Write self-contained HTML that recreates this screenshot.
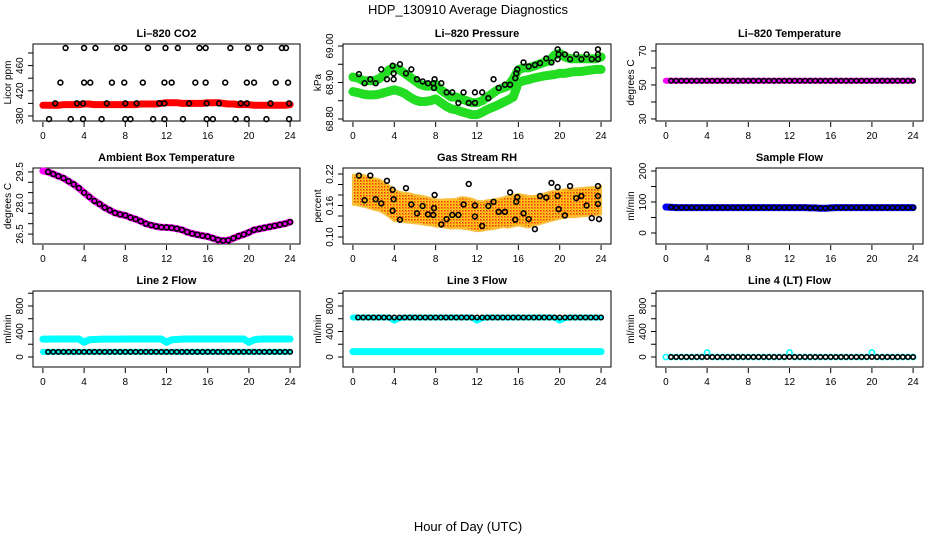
<!DOCTYPE html>
<html><head><meta charset="utf-8"><style>
body{margin:0;background:#fff}
svg{display:block;font-family:"Liberation Sans",Arial,sans-serif}
</style></head><body>
<svg id="c" width="936" height="540" viewBox="0 0 936 540">
<defs>
<pattern id="rhpat" width="3" height="3" patternUnits="userSpaceOnUse"><rect width="3" height="3" fill="#ffd21a"/><rect x="0" y="0" width="1.5" height="1.5" fill="#f03010"/><rect x="1.5" y="1.5" width="1" height="1" fill="#f06010"/></pattern>
</defs>
<text x="468" y="14" text-anchor="middle" font-size="13">HDP_130910  Average Diagnostics</text>
<text x="468" y="531" text-anchor="middle" font-size="13">Hour of Day (UTC)</text>
</svg>
<script>
// ---- data ----
const halfHours=[0.5,1,1.5,2,2.5,3,3.5,4,4.5,5,5.5,6,6.5,7,7.5,8,8.5,9,9.5,10,10.5,11,11.5,12,12.5,13,13.5,14,14.5,15,15.5,16,16.5,17,17.5,18,18.5,19,19.5,20,20.5,21,21.5,22,22.5,23,23.5,24];
const bandHours=[0,0.5,1,1.5,2,2.5,3,3.5,4,4.5,5,5.5,6,6.5,7,7.5,8,8.5,9,9.5,10,10.5,11,11.5,12,12.5,13,13.5,14,14.5,15,15.5,16,16.5,17,17.5,18,18.5,19,19.5,20,20.5,21,21.5,22,22.5,23,23.5,24];
const xTicks=[0,4,8,12,16,20,24];
// CO2
const co2Red=[397,397,397,397,398,398,398,398,399,399,398,398,398,398,398,398,398,398,398,399,399,399,399,400,401,401,401,400,400,400,400,400,401,401,401,400,399,399,398,398,398,397,397,397,397,397,397,397,398];
const co2BlackHours=[2.2,4.0,5.1,7.2,7.9,10.2,11.9,13.1,15.2,15.8,18.2,19.9,21.1,23.2,23.6,1.7,4.0,4.6,6.7,7.9,9.7,11.8,12.5,14.8,15.8,17.7,19.8,20.5,22.6,23.8,0.6,2.7,3.9,5.7,8.0,8.5,10.7,11.8,13.6,15.9,16.5,18.7,19.8,21.7,23.9,1.2,3.3,3.9,6.2,8.0,9.1,11.3,11.8,14.2,15.9,17.1,19.2,19.8,22.1,23.9];
const co2BlackVals=[488,488,488,488,488,488,488,488,488,488,488,488,488,488,488,433,433,433,433,433,433,433,433,433,433,433,433,433,433,433,375,375,375,375,375,375,375,375,375,375,375,375,375,375,375,400,400,400,400,400,400,400,400,400,400,400,400,400,400,400];
// Pressure
const presUpper=[68.915,68.912,68.905,68.905,68.905,68.91,68.92,68.935,68.94,68.935,68.925,68.915,68.905,68.895,68.89,68.89,68.895,68.88,68.87,68.86,68.86,68.855,68.85,68.845,68.845,68.85,68.86,68.87,68.88,68.885,68.89,68.91,68.935,68.94,68.94,68.945,68.95,68.955,68.96,68.975,68.98,68.97,68.965,68.965,68.965,68.965,68.965,68.965,68.97];
const presLower=[68.875,68.872,68.868,68.866,68.866,68.868,68.872,68.876,68.88,68.876,68.87,68.86,68.852,68.848,68.848,68.85,68.855,68.845,68.835,68.828,68.825,68.82,68.816,68.812,68.812,68.818,68.826,68.832,68.838,68.845,68.852,68.86,68.9,68.905,68.908,68.912,68.915,68.918,68.92,68.922,68.925,68.925,68.928,68.93,68.93,68.932,68.934,68.936,68.936];
const presBlackHours=[0.58,1.13,1.68,2.2,2.74,3.29,3.84,3.94,3.94,4.55,5.13,5.65,6.2,6.74,7.26,7.77,7.84,7.9,8.55,9.06,9.61,10.2,10.7,11.2,11.8,11.8,12.5,13.1,13.6,14.1,14.7,15.2,15.7,15.8,15.9,16.5,17.0,17.6,18.1,18.7,19.2,19.8,19.8,19.9,20.5,21.0,21.6,22.1,22.6,23.1,23.7,23.7,23.7];
const presBlackVals=[68.923,68.898,68.909,68.898,68.936,68.909,68.946,68.925,68.909,68.95,68.925,68.936,68.909,68.903,68.898,68.898,68.885,68.909,68.898,68.873,68.873,68.844,68.873,68.844,68.873,68.844,68.873,68.857,68.909,68.885,68.894,68.894,68.912,68.925,68.936,68.955,68.944,68.948,68.953,68.966,68.955,68.964,68.991,68.977,68.977,68.964,68.977,68.964,68.977,68.964,68.991,68.977,68.964];
// Li-820 temperature
const tempVals=[52.5,52.5,52.5,52.5,52.5,52.5,52.5,52.5,52.5,52.5,52.5,52.5,52.5,52.5,52.5,52.5,52.5,52.5,52.5,52.5,52.5,52.5,52.5,52.5,52.5,52.5,52.5,52.5,52.5,52.5,52.5,52.5,52.5,52.5,52.5,52.5,52.5,52.5,52.5,52.5,52.5,52.5,52.5,52.5,52.5,52.5,52.5,52.5,52.5];
// Ambient box temperature
const ambVals=[29.55,29.5,29.4,29.3,29.2,29.05,28.9,28.72,28.5,28.3,28.1,27.95,27.78,27.65,27.52,27.45,27.4,27.3,27.22,27.12,27.0,26.93,26.87,26.83,26.82,26.8,26.76,26.7,26.6,26.52,26.47,26.42,26.38,26.3,26.22,26.18,26.2,26.3,26.4,26.48,26.58,26.7,26.75,26.8,26.85,26.9,26.95,27.0,27.08];
// Gas stream RH
const rhMid=[0.19,0.19,0.188,0.185,0.182,0.18,0.175,0.168,0.16,0.158,0.156,0.155,0.153,0.152,0.15,0.148,0.146,0.145,0.145,0.144,0.145,0.146,0.145,0.143,0.14,0.14,0.142,0.143,0.145,0.147,0.148,0.15,0.152,0.15,0.148,0.15,0.152,0.155,0.158,0.16,0.162,0.164,0.165,0.165,0.166,0.167,0.168,0.168,0.17];
const rhSpread=[0.028,0.03,0.03,0.03,0.03,0.03,0.03,0.03,0.03,0.028,0.028,0.028,0.027,0.027,0.027,0.026,0.026,0.026,0.027,0.028,0.028,0.03,0.03,0.03,0.029,0.028,0.028,0.028,0.028,0.028,0.03,0.03,0.03,0.03,0.03,0.028,0.028,0.028,0.028,0.028,0.027,0.027,0.027,0.027,0.027,0.027,0.027,0.027,0.027];
const rhBlackHours=[0.58,1.13,1.68,2.2,2.74,3.29,3.84,3.94,3.84,4.55,5.13,5.65,6.2,6.74,7.26,7.77,7.84,7.9,8.55,9.06,9.61,10.2,10.7,11.2,11.8,11.8,12.5,13.1,13.6,14.1,14.7,15.2,15.7,15.8,15.9,16.5,17.0,17.6,18.1,18.7,19.2,19.8,19.8,19.9,20.5,21.0,21.6,22.1,22.6,23.1,23.7,23.7,23.7,23.8];
const rhBlackVals=[0.217,0.17,0.217,0.172,0.164,0.207,0.19,0.172,0.15,0.133,0.193,0.162,0.145,0.159,0.143,0.142,0.155,0.18,0.124,0.134,0.142,0.142,0.162,0.201,0.139,0.16,0.121,0.159,0.167,0.148,0.148,0.185,0.133,0.167,0.176,0.145,0.134,0.115,0.178,0.175,0.203,0.178,0.195,0.153,0.141,0.197,0.174,0.178,0.16,0.136,0.178,0.197,0.163,0.134];
// Sample flow
const sampleVals=[84,83,82,82,82,82,82,82,82,82,82,82,82,82,82,82,82,82,82,82,82,82,82,82,82,82,82,82,81,81,80,80,81,82,82,82,82,82,82,82,82,82,82,82,82,82,82,82,82];
// Line flows
const line2Upper=[280,280,282,282,282,282,282,282,230,270,275,278,280,280,280,280,282,282,282,282,282,282,282,282,230,270,275,280,282,282,282,282,282,282,282,282,282,282,282,282,230,270,280,282,282,282,282,282,282];
const line2Lower=[80,80,80,80,80,80,80,80,80,80,80,80,80,80,80,80,80,80,80,80,80,80,80,80,80,80,80,80,80,80,80,80,80,80,80,80,80,80,80,80,80,80,80,80,80,80,80,80,80];
const line3Upper=[620,620,620,620,620,620,620,620,570,610,620,620,620,620,620,620,620,620,620,620,620,620,620,620,570,610,620,620,620,620,620,620,620,620,620,620,620,620,620,620,570,610,620,620,620,620,620,620,620];
const line3Lower=[85,85,85,85,85,85,85,85,85,85,85,85,85,85,85,85,85,85,85,85,85,85,85,85,85,85,85,85,85,85,85,85,85,85,85,85,85,85,85,85,85,85,85,85,85,85,85,85,85];
const line4Cyan=[0,0,0,0,0,0,0,0,70,0,0,0,0,0,0,0,0,0,0,0,0,0,0,0,70,0,0,0,0,0,0,0,0,0,0,0,0,0,0,0,70,0,0,0,0,0,0,0,0];
const line4Black=[0,0,0,0,0,0,0,0,0,0,0,0,0,0,0,0,0,0,0,0,0,0,0,0,0,0,0,0,0,0,0,0,0,0,0,0,0,0,0,0,0,0,0,0,0,0,0,0,0];

// ---- drawing ----
const svg=document.getElementById('c');
const NS='http://www.w3.org/2000/svg';
function mk(tag,attrs,parent){const e=document.createElementNS(NS,tag);for(const k in attrs)e.setAttribute(k,attrs[k]);(parent||svg).appendChild(e);return e;}
const colsX=[[33,300],[343,611],[656,923]];
const rowsY=[[44,121],[168,244],[291,367]];

function panel(name,col,row,title,ylab,ymin,ymax,yTicks,yLabels){
  const [x0,x1]=colsX[col],[y0,y1]=rowsY[row];
  const g=mk('g',{});
  
  
  const sx=h=>x0+(h+0.96)/25.92*(x1-x0);
  const sy=v=>y1-(v-ymin)/(ymax-ymin)*(y1-y0);
  const t=mk('text',{x:(x0+x1)/2,y:y0-7,'text-anchor':'middle','font-size':11,'font-weight':'bold'},g);
  t.textContent=title;
  
  
  const box=mk('rect',{x:x0,y:y0,width:x1-x0,height:y1-y0,fill:'none',stroke:'#000','stroke-width':1},g);
  
  
  xTicks.forEach(v=>{
    const tk=mk('line',{x1:sx(v),x2:sx(v),y1:y1+1,y2:y1+6,stroke:'#000'},g);
    
    
    const l=mk('text',{x:sx(v),y:y1+18,'text-anchor':'middle','font-size':10},g);
    l.textContent=v;
    
    
  });
  yTicks.forEach(v=>{
    const tk=mk('line',{x1:x0-5,x2:x0,y1:sy(v),y2:sy(v),stroke:'#000'},g);
    
    
  });
  yLabels.forEach(v=>{
    const l=mk('text',{x:0,y:0,'text-anchor':'middle','font-size':10,transform:`translate(${x0-10},${sy(v)}) rotate(-90)`},g);
    l.textContent=v;
    
    
  });
  const yl=mk('text',{x:0,y:0,'text-anchor':'middle','font-size':10,transform:`translate(${x0-22},${(y0+y1)/2}) rotate(-90)`},g);
  yl.textContent=ylab;
  
  
  const clip=mk('g',{},g);
  return {g:clip,sx,sy};
}
function band(p,hours,vals,color,w,name){
  const d=hours.map((h,i)=>(i?'L':'M')+p.sx(h).toFixed(1)+' '+p.sy(vals[i]).toFixed(1)).join(' ');
  const e=mk('path',{d,fill:'none',stroke:color,'stroke-width':w,'stroke-linejoin':'round','stroke-linecap':'round'},p.g);
  
  
}
function points(p,hours,vals,color,r,name){
  hours.forEach((h,i)=>{
    const c=mk('circle',{cx:p.sx(h),cy:p.sy(vals[i]),r:r,fill:'none',stroke:color,'stroke-width':1.6},p.g);
    
    
  });
}

// CO2
let p=panel('co2',0,0,'Li–820 CO2','Licor ppm',372,494.3,[380,400,420,440,460,480],[380,420,460]);
band(p,bandHours,co2Red,'#ff0000',7,'co2-red-series');
points(p,co2BlackHours,co2BlackVals,'#000',2.4,'co2-point');

// Pressure
p=panel('pressure',1,0,'Li–820 Pressure','kPa',68.7945,69.0055,[68.80,68.85,68.90,68.95,69.00],['68.80','68.90','69.00']);
band(p,bandHours,presUpper,'#22dd22',9,'pressure-upper-green');
band(p,bandHours,presLower,'#22dd22',9,'pressure-lower-green');
points(p,presBlackHours,presBlackVals,'#000',2.4,'pressure-point');

// Li-820 Temperature
p=panel('li820-temperature',2,0,'Li–820 Temperature','degrees C',28.8,74.1,[30,40,50,60,70],[30,50,70]);
band(p,bandHours,tempVals,'#ff00ff',6,'temperature-magenta-series');
points(p,halfHours,tempVals.slice(1),'#000',2.2,'temperature-point');

// Ambient
p=panel('ambient',0,1,'Ambient Box Temperature','degrees C',26.02,29.69,[26.5,27,27.5,28,28.5,29,29.5],['26.5','28.0','29.5']);
band(p,bandHours,ambVals,'#ff00ff',7,'ambient-magenta-series');
points(p,halfHours,ambVals.slice(1),'#000',2.4,'ambient-point');

// RH
p=panel('rh',1,1,'Gas Stream RH','percent',0.0867,0.2314,[0.10,0.12,0.14,0.16,0.18,0.20,0.22],['0.10','0.16','0.22']);
{
  const up=bandHours.map((h,i)=>p.sx(h).toFixed(1)+','+p.sy(rhMid[i]+rhSpread[i]).toFixed(1));
  const dn=bandHours.map((h,i)=>p.sx(h).toFixed(1)+','+p.sy(rhMid[i]-rhSpread[i]).toFixed(1)).reverse();
  const e=mk('polygon',{points:up.concat(dn).join(' '),fill:'url(#rhpat)',stroke:'#f8c040','stroke-width':2},p.g);
  
  
}
points(p,rhBlackHours,rhBlackVals,'#000',2.4,'rh-point');

// Sample flow
p=panel('sample-flow',2,1,'Sample Flow','ml/min',-35.5,209.7,[0,50,100,150,200],[0,100,200]);
band(p,bandHours,sampleVals,'#0000ff',7,'sample-flow-blue-series');
points(p,halfHours,sampleVals.slice(1),'#000',2.2,'sample-flow-point');

// Line 2
p=panel('line2',0,2,'Line 2 Flow','ml/min',-157,1035,[0,200,400,600,800,1000],[0,400,800]);
band(p,bandHours,line2Upper,'#00ffff',7,'line2-upper-cyan');
band(p,bandHours,line2Lower,'#00ffff',6,'line2-lower-cyan');
points(p,halfHours,line2Lower.slice(1),'#000',2.2,'line2-point');

// Line 3
p=panel('line3',1,2,'Line 3 Flow','ml/min',-157,1035,[0,200,400,600,800,1000],[0,400,800]);
band(p,bandHours,line3Upper,'#00ffff',6,'line3-upper-cyan');
band(p,bandHours,line3Lower,'#00ffff',7,'line3-lower-cyan');
points(p,halfHours,line3Upper.slice(1).map(v=>Math.max(v,620)),'#000',2.2,'line3-point');

// Line 4
p=panel('line4',2,2,'Line 4 (LT) Flow','ml/min',-157,1035,[0,200,400,600,800,1000],[0,400,800]);
points(p,bandHours,line4Cyan,'#00ffff',2.6,'line4-cyan-point');
points(p,halfHours,line4Black.slice(1),'#000',2.2,'line4-point');
</script>
</body></html>
